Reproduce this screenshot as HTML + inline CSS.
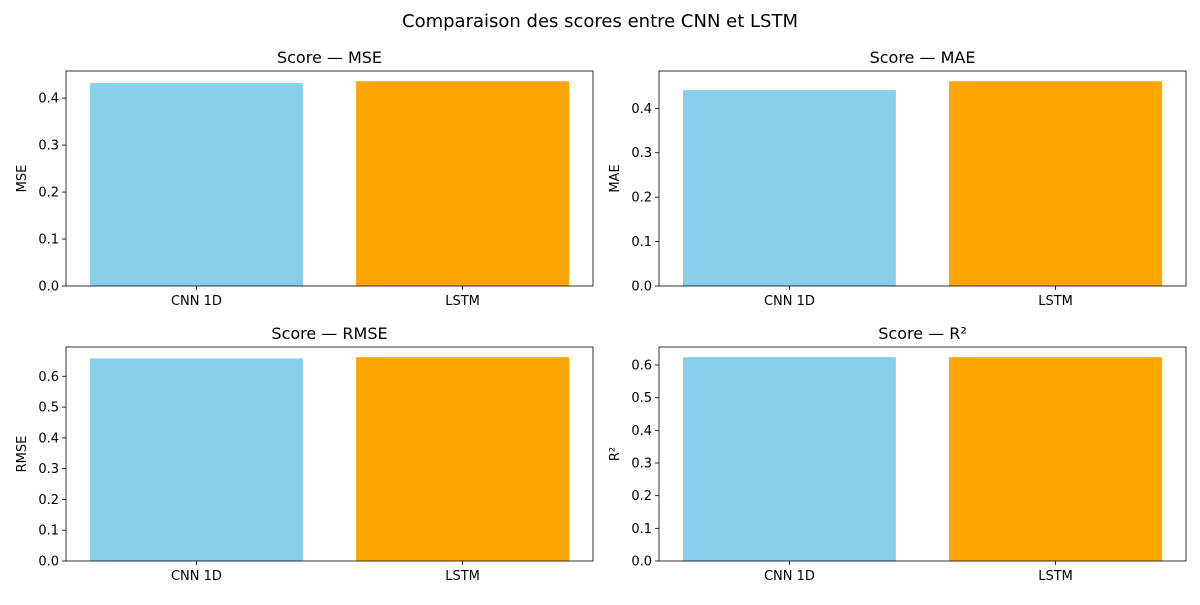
<!DOCTYPE html>
<html><head><meta charset="utf-8"><style>
body{margin:0;background:#fff;}
svg{font-family:"DejaVu Sans","Liberation Sans",sans-serif;}
</style></head><body>
<svg id="chart" width="1200" height="600" xmlns="http://www.w3.org/2000/svg">
<text x="600" y="27" text-anchor="middle" font-size="18" fill="#000">Comparaison des scores entre CNN et LSTM</text>
</svg>
<script>
const categories = ["CNN 1D", "LSTM"];
const metrics = ["MSE", "MAE", "RMSE", "R²"];
const mseValues = [0.432, 0.436];
const maeValues = [0.441, 0.461];
const rmseValues = [0.658, 0.662];
const r2Values = [0.624, 0.624];
const colors = ["#87ceeb", "#ffa500"];
const svg = document.getElementById('chart');
const NS = "http://www.w3.org/2000/svg";
function mk(tag, attrs, parent){const e=document.createElementNS(NS,tag);for(const k in attrs)e.setAttribute(k,attrs[k]);(parent||svg).appendChild(e);return e;}
const panels = [
 {vals: mseValues, x:66, y:71, w:527, h:215},
 {vals: maeValues, x:659, y:71, w:527, h:215},
 {vals: rmseValues, x:66, y:347, w:527, h:214},
 {vals: r2Values, x:659, y:347, w:527, h:214}
];
panels.forEach((p,i)=>{
  const g = mk('g',{});
  
  
  const ymax = Math.max(...p.vals)*1.05;
  const ys = v => p.y + p.h - v/ymax*p.h;
  const xs = v => p.x + (v+0.49)/1.98*p.w;
  categories.forEach((c,j)=>{
    const b = mk('rect',{x:xs(j-0.4),y:ys(p.vals[j]),width:xs(j+0.4)-xs(j-0.4),height:ys(0)-ys(p.vals[j]),fill:colors[j]},g);
    
    
    mk('line',{x1:xs(j),x2:xs(j),y1:p.y+p.h,y2:p.y+p.h+4,stroke:'#000','stroke-width':0.8},g);
    const t = mk('text',{x:xs(j),y:p.y+p.h+19,'text-anchor':'middle','font-size':13},g);
    t.textContent=c;
    
    
  });
  for(let v=0; v<=ymax+1e-9; v+=0.1){
    const y=ys(v);
    mk('line',{x1:p.x-4,x2:p.x,y1:y,y2:y,stroke:'#000','stroke-width':0.8},g);
    const t=mk('text',{x:p.x-7,y:y+4.5,'text-anchor':'end','font-size':13},g);
    t.textContent=v.toFixed(1);
    
    
  }
  mk('rect',{x:p.x,y:p.y,width:p.w,height:p.h,fill:'none',stroke:'#000','stroke-width':0.8},g);
  const tt=mk('text',{x:p.x+p.w/2,y:p.y-8,'text-anchor':'middle','font-size':16},g);
  tt.textContent='Score — '+metrics[i];
  
  
  const yl=mk('text',{x:0,y:0,'text-anchor':'middle','font-size':13,transform:`translate(${p.x-40},${p.y+p.h/2}) rotate(-90)`},g);
  yl.textContent=metrics[i];
  
  
});
</script>
</body></html>
